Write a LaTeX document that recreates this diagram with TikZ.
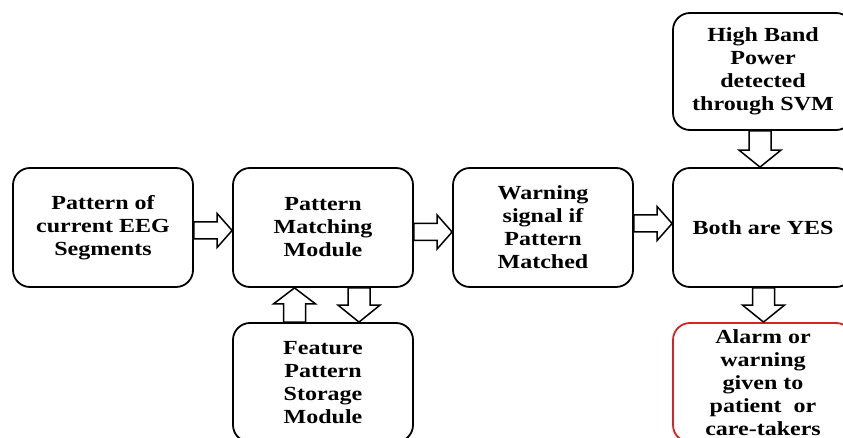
\documentclass[tikz,border=0pt]{standalone}
\usepackage{fontspec}
\setmainfont{Liberation Serif}[FakeStretch=1.2]
\usetikzlibrary{calc}
\definecolor{alarmred}{RGB}{215,35,35}
\tikzset{
  box/.style={draw=black, line width=1.8pt, rounded corners=17pt,
    minimum width=180pt, minimum height=119pt, inner sep=0pt,
    align=center, font=\fontsize{20}{23}\selectfont\bfseries},
  alarmbox/.style={box, draw=alarmred},
  barrow/.style={draw=black, fill=white, line width=1.5pt, line join=miter}
}
% hollow block arrow pointing right, from #1.east to #2.west, shifted #3 pt downwards
\newcommand\rightblock[3]{%
  \draw[barrow] let \p1=(#1.east), \p2=(#2.west) in
    (\x1,\y1-#3pt+8.5pt) -- (\x2-15pt,\y1-#3pt+8.5pt) -- (\x2-15pt,\y1-#3pt+17pt)
    -- (\x2,\y1-#3pt) -- (\x2-15pt,\y1-#3pt-17pt) -- (\x2-15pt,\y1-#3pt-8.5pt)
    -- (\x1,\y1-#3pt-8.5pt) -- cycle;}
% hollow block arrow pointing down, from #1.south to #2.north, shifted #3 pt to the right
\newcommand\downblock[3]{%
  \draw[barrow] let \p1=(#1.south), \p2=(#2.north) in
    (\x1+#3pt-11pt,\y1) -- (\x1+#3pt-11pt,\y2+17pt) -- (\x1+#3pt-21pt,\y2+17pt)
    -- (\x1+#3pt,\y2) -- (\x1+#3pt+21pt,\y2+17pt) -- (\x1+#3pt+11pt,\y2+17pt)
    -- (\x1+#3pt+11pt,\y1) -- cycle;}
% hollow block arrow pointing up, from #1.north to #2.south, shifted #3 pt to the right
\newcommand\upblock[3]{%
  \draw[barrow] let \p1=(#1.north), \p2=(#2.south) in
    (\x2+#3pt-11pt,\y1) -- (\x2+#3pt-11pt,\y2-16pt) -- (\x2+#3pt-21pt,\y2-16pt)
    -- (\x2+#3pt,\y2) -- (\x2+#3pt+21pt,\y2-16pt) -- (\x2+#3pt+11pt,\y2-16pt)
    -- (\x2+#3pt+11pt,\y1) -- cycle;}
\begin{document}
\begin{tikzpicture}[x=1pt, y=-1pt]
  \useasboundingbox (0,0) rectangle (843,438);
  \clip (0,0) rectangle (843,438);
  \fill[white] (0,0) rectangle (843,438);

  \node[box] (eeg)   at (103,227.5) {Pattern of\\current EEG\\Segments};
  \node[box] (match) at (323,227.5) {Pattern\\Matching\\Module};
  \node[box] (warn)  at (543,227.5) {Warning\\signal if\\Pattern\\Matched};
  \node[box] (both)  at (763,227.5) {Both are YES};
  \node[box, minimum height=117pt] (svm) at (763,71.5) {High Band\\Power\\detected\\through SVM};
  \node[box] (store) at (323,382.5) {Feature\\Pattern\\Storage\\Module};
  \node[alarmbox] (alarm) at (763,382.5) {Alarm or\\warning\\given to\\patient~ or\\care-takers};

  \rightblock{eeg}{match}{3}
  \rightblock{match}{warn}{4.5}
  \rightblock{warn}{both}{-4}
  \downblock{svm}{both}{-3}
  \downblock{both}{alarm}{0.5}
  \downblock{match}{store}{36}
  \upblock{store}{match}{-28.5}
\end{tikzpicture}
\end{document}
